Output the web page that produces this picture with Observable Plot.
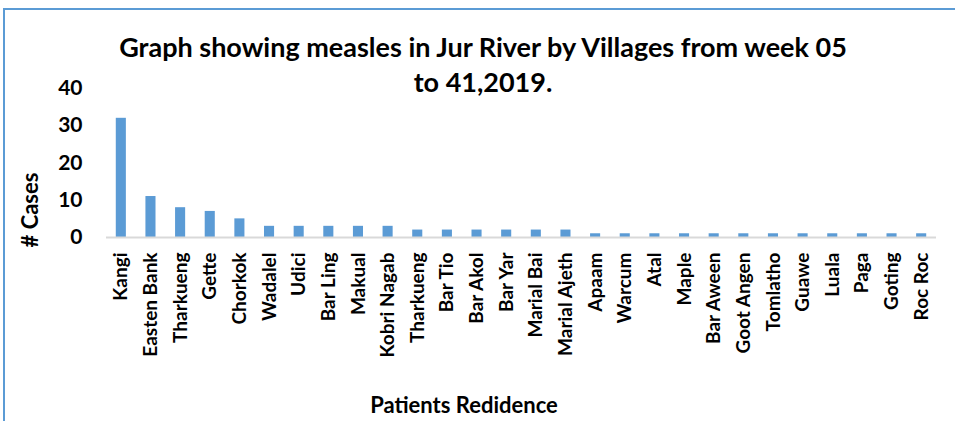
<!DOCTYPE html>
<html>
<head>
<meta charset="utf-8">
<script src="https://cdn.jsdelivr.net/npm/d3@7"></script>
<script src="https://cdn.jsdelivr.net/npm/@observablehq/plot@0.6"></script>
<style>
  html, body { margin: 0; padding: 0; background: #fff; }
  #wrap { position: relative; width: 955px; height: 421px; overflow: hidden; font-family: Lato, "Open Sans", sans-serif; }
  #border { position: absolute; left: 3px; top: 8px; right: -10px; bottom: -10px; border-left: 2px solid #5b9bd5; border-top: 2px solid #5b9bd5; pointer-events: none; }
  .title { position: absolute; left: 0; width: 966px; text-align: center; font-weight: bold; font-size: 27px; line-height: 27px; color: #000; white-space: nowrap; }
  #ylab { position: absolute; left: 30px; top: 210px; transform: translate(-50%, -50%) rotate(-90deg); font-weight: bold; font-size: 22px; line-height: 22px; white-space: nowrap; }
  #xlab { position: absolute; left: 464px; top: 394px; transform: translateX(-50%); font-weight: bold; font-size: 22px; line-height: 22px; white-space: nowrap; }
  svg { position: absolute; left: 0; top: 0; }
</style>
</head>
<body>
<div id="wrap">
  <div id="chart"></div>
  <div class="title" style="top:33px">Graph showing measles in Jur River by Villages from week 05</div>
  <div class="title" style="top:68px">to 41,2019.</div>
  <div id="ylab"># Cases</div>
  <div id="xlab">Patients Redidence</div>
  <div id="border"></div>
</div>
<script>
const villages = ["Kangi","Easten Bank","Tharkueng","Gette","Chorkok","Wadalel","Udici","Bar Ling","Makual","Kobri Nagab","Tharkueng","Bar Tio","Bar Akol","Bar Yar","Marial Bai","Marial Ajeth","Apaam","Warcum","Atal","Maple","Bar Aween","Goot Angen","Tomlatho","Guawe","Luala","Paga","Goting","Roc Roc"];
const cases = [32,11,8,7,5,3,3,3,3,3,2,2,2,2,2,2,1,1,1,1,1,1,1,1,1,1,1,1];
const yTicks = [0,10,20,30,40];

const data = villages.map((v, i) => ({i, v, c: cases[i]}));

const chart = Plot.plot({
  width: 955,
  height: 421,
  marginLeft: 106,
  marginRight: 19,
  marginTop: 88,
  marginBottom: 184,
  style: {fontFamily: "Lato, 'Open Sans', sans-serif", background: "transparent", color: "#000"},
  x: {domain: d3.range(villages.length), paddingInner: 0.66, paddingOuter: 0.33, round: false, label: null},
  y: {domain: [0, 40], label: null},
  marks: [
    Plot.barY(data, {x: "i", y: "c", fill: "#5b9bd5"}),
    Plot.ruleY([0], {stroke: "#d9d9d9", strokeWidth: 2}),
    Plot.axisX({tickRotate: -90, tickSize: 0, tickPadding: 15, tickFormat: i => villages[i], fontSize: 19, fontWeight: "bold", label: null}),
    Plot.axisY({ticks: yTicks, tickSize: 0, tickPadding: 24, fontSize: 21, fontWeight: "bold", label: null})
  ]
});
document.getElementById("chart").appendChild(chart);
</script>
</body>
</html>
